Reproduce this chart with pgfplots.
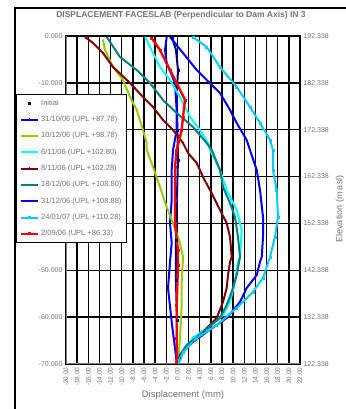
\documentclass[border=0pt]{standalone}
\usepackage{fontspec}
\setmainfont{Liberation Sans}
\usepackage{pgfplots}
\pgfplotsset{compat=1.18}
\definecolor{ygreen}{RGB}{153,204,0}
\definecolor{skyb}{RGB}{0,204,255}
\definecolor{cyanc}{RGB}{0,255,255}
\definecolor{tealc}{RGB}{0,128,128}
\definecolor{maroonc}{RGB}{128,0,0}
\definecolor{navyc}{RGB}{0,0,128}
\definecolor{lbl}{gray}{0.45}
\begin{document}
\begin{tikzpicture}
\useasboundingbox (0pt,0pt) rectangle (345pt,409pt);
\draw[line width=1.5pt] (15pt,-2pt) -- (15pt,401pt) -- (347pt,401pt);
\node[font=\bfseries\fontsize{8.5}{9}\selectfont, text=lbl] at (181pt,394pt) {DISPLACEMENT FACESLAB (Perpendicular to Dam Axis) IN 3};
\node[rotate=90, font=\fontsize{9}{10}\selectfont, text=lbl] at (340pt,200pt) {Elevation (m asl)};
% right elevation axis
\begin{axis}[at={(66pt,45pt)}, anchor=south west, width=234pt, height=328pt, scale only axis,
  xmin=-20, xmax=22, ymin=122.338, ymax=192.338,
  axis x line=none, axis y line*=right, axis line style={draw=none},
  ytick={122.338,132.338,142.338,152.338,162.338,172.338,182.338,192.338},
  yticklabels={122.338,132.338,142.338,152.338,162.338,172.338,182.338,192.338},
  yticklabel style={font=\fontsize{7}{8}\selectfont, text=lbl},
  major tick length=0pt]
\addplot[draw=none] coordinates {(0,130)};
\end{axis}
% main axis
\begin{axis}[at={(66pt,45pt)}, anchor=south west, width=234pt, height=328pt, scale only axis,
  xmin=-20, xmax=22, ymin=-70, ymax=0,
  xtick={-20,-18,-16,-14,-12,-10,-8,-6,-4,-2,0,2,4,6,8,10,12,14,16,18,20,22},
  xticklabels={-20.00,-18.00,-16.00,-14.00,-12.00,-10.00,-8.00,-6.00,-4.00,-2.00,0.00,2.00,4.00,6.00,8.00,10.00,12.00,14.00,16.00,18.00,20.00,22.00},
  ytick={-70,-60,-50,-40,-30,-20,-10,0},
  yticklabels={-70.000,-60.000,-50.000,-40.000,-30.000,-20.000,-10.000,0.000},
  grid=major, major grid style={black, line width=1.4pt},
  axis line style={black, line width=1.5pt},
  major tick length=0pt,
  tick label style={text=lbl, font=\fontsize{7}{8}\selectfont},
  xticklabel style={rotate=90, anchor=east, font=\fontsize{6.5}{7}\selectfont},
  xlabel={Displacement (mm)},
  xlabel style={font=\fontsize{9.5}{10}\selectfont, text=lbl, yshift=2pt},
  legend cell align=left,
  legend style={at={(-0.2137,0.8232)}, anchor=north west, draw=black, line width=1.5pt,
    fill=white, font=\fontsize{7.5}{8}\selectfont, text=lbl, row sep=5.4pt,
    inner xsep=3pt, inner ysep=3pt},
  every axis plot/.append style={line width=2pt, mark size=1.3pt, mark options={solid, line width=0.8pt}},
]
\draw[gray, line width=1.5pt] (rel axis cs:0,1) -- (rel axis cs:0,0) -- (rel axis cs:1,0);
% Initial
\addplot[navyc, mark=square*, mark size=1pt,
  legend image code/.code={\draw[navyc, mark=square*, mark size=1.3pt] plot coordinates {(0.3cm,0cm)};}]
 coordinates {(-0.97,-0.21) (-0.26,-2.99) (0.10,-7.26) (-0.13,-13.02) (0.0,-20.06) (0.1,-26.46) (-0.1,-35.00) (-0.26,-43.54) (-0.26,-52.07) (-0.08,-60.6) (-0.08,-69.57)};
\addlegendentry{Initial}
% blue small
\addplot[blue, mark=|] coordinates {(-1.93,-0.21) (-2.23,-2.99) (-1.93,-5.76) (-0.44,-10.03) (-0.13,-15.79) (-0.13,-20.06) (-0.79,-24.33) (-1.03,-28.60) (-1.03,-35.00) (-1.33,-39.91) (-1.03,-44.18) (-1.33,-48.23) (-1.69,-53.78) (-1.03,-61.04) (-0.44,-66.59) (-0.13,-69.57)};
\addlegendentry{31/10/06 (UPL +87.78)}
% yellow green
\addplot[ygreen, mark=|] coordinates {(-13.36,-0.85) (-13.00,-2.99) (-11.56,-6.62) (-9.77,-9.39) (-8.51,-13.02) (-7.31,-15.79) (-6.18,-20.06) (-5.52,-22.84) (-5.52,-24.33) (-4.38,-27.96) (-3.13,-32.23) (-1.93,-36.49) (-0.79,-39.91) (0.46,-44.18) (1.00,-47.16) (1.00,-47.38) (0.77,-52.50) (0.77,-57.41) (0.46,-64.45) (0.10,-69.57)};
\addlegendentry{10/12/06 (UPL +98.78)}
% cyan
\addplot[cyanc] coordinates {(-5.82,-0.21) (-4.92,-2.35) (-3.13,-6.62) (-1.33,-9.39) (0.46,-13.02) (2.26,-17.29) (4.05,-20.06) (5.49,-22.84) (5.85,-24.33) (7.64,-28.60) (8.84,-32.87) (10.64,-37.13) (11.54,-41.40) (11.23,-47.16) (10.87,-48.23) (10.33,-52.50) (9.44,-56.77) (8.18,-59.54) (5.25,-62.32) (2.79,-64.45) (1.00,-67.44) (0.46,-69.57)};
\addlegendentry{6/11/06 (UPL +102.80)}
% maroon
\addplot[maroonc, mark=|] coordinates {(-16.59,-0.21) (-15.15,-1.49) (-13.36,-3.63) (-11.56,-6.62) (-8.51,-10.03) (-6.18,-13.02) (-4.38,-15.15) (-2.59,-17.93) (-0.79,-20.06) (1.00,-22.84) (1.90,-24.97) (3.46,-27.10) (4.59,-30.09) (5.85,-32.87) (7.64,-37.13) (8.84,-39.91) (9.44,-42.90) (9.74,-47.16) (9.44,-48.23) (9.08,-51.01) (8.84,-53.78) (8.18,-56.77) (7.05,-60.18) (4.59,-63.17) (2.79,-65.30) (1.00,-67.44) (0.46,-68.72) (0.10,-69.57)};
\addlegendentry{8/11/06 (UPL +102.28)}
% teal
\addplot[tealc] coordinates {(-12.69,-0.21) (-10.31,-4.48) (-7.31,-7.26) (-4.92,-10.03) (-2.59,-13.66) (-0.13,-16.43) (2.79,-19.42) (5.25,-22.84) (6.15,-24.33) (7.64,-28.60) (8.18,-32.23) (9.44,-35.64) (10.33,-38.63) (10.87,-42.90) (11.23,-47.16) (10.64,-51.01) (9.74,-54.63) (8.84,-57.41) (7.64,-60.18) (4.59,-63.17) (1.66,-65.95) (0.46,-68.08) (0.10,-69.57)};
\addlegendentry{18/12/06 (UPL +108.80)}
% blue large
\addplot[blue] coordinates {(-1.33,-0.21) (1.00,-3.63) (3.46,-7.26) (5.25,-9.39) (7.64,-12.16) (9.44,-15.79) (10.64,-18.57) (12.43,-22.20) (13.03,-24.33) (14.23,-28.60) (14.82,-32.87) (15.36,-38.63) (15.36,-42.90) (15.13,-47.16) (14.82,-48.23) (14.23,-51.01) (12.43,-53.78) (11.23,-56.77) (8.84,-60.18) (5.25,-63.17) (2.79,-65.30) (0.46,-68.08) (0.10,-69.57)};
\addlegendentry{31/12/06 (UPL +108.88)}
% sky blue
\addplot[skyb, mark=square*, mark size=1pt] coordinates {(2.79,-0.21) (5.25,-2.35) (7.64,-6.62) (10.64,-10.88) (13.03,-15.15) (14.82,-18.57) (16.62,-22.20) (17.15,-24.33) (17.15,-28.60) (17.82,-32.87) (18.05,-38.63) (17.51,-42.90) (16.62,-47.16) (15.36,-51.65) (13.56,-54.63) (10.64,-58.05) (7.05,-61.68) (3.46,-64.45) (1.00,-67.44) (0.10,-69.57)};
\addlegendentry{24/01/07 (UPL +110.28)}
% red
\addplot[red, mark=square*, mark size=1pt, line width=2.4pt] coordinates {(-4.62,-0.43) (-3.13,-2.99) (-1.33,-7.26) (-0.13,-10.03) (1.36,-13.66) (1.00,-17.29) (0.77,-20.06) (-0.13,-24.33) (-0.44,-27.96) (-0.44,-31.37) (-0.44,-35.00) (-0.44,-39.91) (0.10,-45.67) (0.10,-48.87) (-0.13,-57.41) (-0.13,-64.45) (-0.13,-69.57)};
\addlegendentry{2/09/06 (UPL +86.33)}
\end{axis}
\end{tikzpicture}
\end{document}
